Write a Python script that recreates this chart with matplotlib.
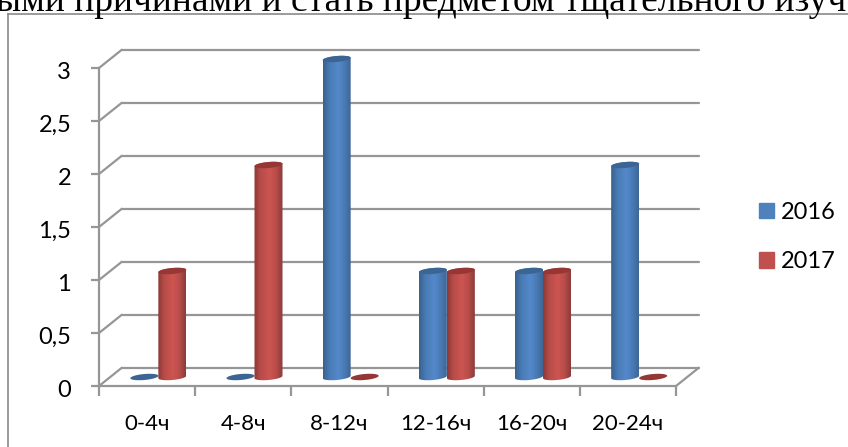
import numpy as np
import matplotlib
matplotlib.use("Agg")
import matplotlib.pyplot as plt
from matplotlib.colors import LinearSegmentedColormap
from matplotlib.lines import Line2D
from matplotlib.patches import Patch, Polygon
from matplotlib.transforms import ScaledTranslation

categories = ["0-4ч", "4-8ч", "8-12ч", "12-16ч", "16-20ч", "20-24ч"]
series_2016 = [0, 0, 3, 1, 1, 2]
series_2017 = [1, 2, 0, 1, 1, 0]
y_ticks = [0, 0.5, 1, 1.5, 2, 2.5, 3]
y_tick_labels = ["0", "0,5", "1", "1,5", "2", "2,5", "3"]
series_names = ["2016", "2017"]
background_text = "ыми причинами и стать предметом тщательного изуч"

W, H = 848, 447
FONT = ["Lato", "Noto Sans", "DejaVu Sans"]
GRID = "#969696"
plt.rcParams["font.family"] = FONT

fig = plt.figure(figsize=(W / 100, H / 100), dpi=100, facecolor="white")
L, R, T, B = 99, 676, 68, 386
ax = fig.add_axes([L / W, 1 - B / H, (R - L) / W, (B - T) / H])
ax.patch.set_alpha(0)
px_x = (R - L) / 6
px_y = (B - T) / 3
depth_x = 22.5 / px_x
depth_y = 18 / px_y

# surrounding chart frame and the cropped page text above it
for xs, ys in [((8, 8), (14, H)), ((8, W), (14, 14))]:
    fig.add_artist(Line2D([x / W for x in xs], [1 - y / H for y in ys],
                          color="#8a8a8a", lw=1.2, transform=fig.transFigure))
fig.text(-4 / W, 1 - 11 / H, background_text, family="Liberation Serif",
         fontsize=27, color="black", va="baseline", ha="left")

# walls
for v in y_ticks:
    ax.plot([depth_x, 6 + depth_x], [v + depth_y] * 2, color=GRID, lw=1.6,
            clip_on=False, zorder=1, solid_capstyle="round")
    ax.plot([0, depth_x], [v, v + depth_y], color=GRID, lw=1.6,
            clip_on=False, zorder=1)
ax.plot([6, 6 + depth_x], [0, depth_y], color=GRID, lw=1.6, clip_on=False, zorder=1)


def ramp(edge_l, mid, light, edge_r):
    return LinearSegmentedColormap.from_list(
        "c", [(0, edge_l), (0.22, mid), (0.55, light), (0.78, mid), (1, edge_r)])


blue = dict(cmap=ramp("#37618f", "#4a7ab4", "#5389cb", "#3c6697"), top="#3c6594")
red = dict(cmap=ramp("#8c3937", "#b84c49", "#cd5551", "#8a3c3a"), top="#953735")

half = 14 / px_x
b_px, tilt_px = 3.0, 1.2
ts = np.linspace(0, 2 * np.pi, 80)
z = 3


def ellipse(cx, cy, t):
    return (cx + half * np.cos(t),
            cy + (b_px * np.sin(t) + tilt_px * np.cos(t)) / px_y)


def cylinder(cx, value, style):
    global z
    base = depth_y / 2
    if value > 0:
        xb, yb = ellipse(cx, base, np.linspace(np.pi, 2 * np.pi, 40))
        xt, yt = ellipse(cx, base + value, np.linspace(0, np.pi, 40))
        outline = Polygon(np.column_stack([np.r_[xb, xt], np.r_[yb, yt]]),
                          closed=True, transform=ax.transData, fc="none", ec="none")
        ax.add_patch(outline)
        im = ax.imshow(np.linspace(0, 1, 64)[None, :], cmap=style["cmap"], aspect="auto",
                       extent=(cx - half, cx + half, base - 0.05, base + value + 0.05),
                       interpolation="bilinear", zorder=z)
        im.set_clip_box(fig.bbox)
        im.set_clip_path(outline)
    xe, ye = ellipse(cx, base + value, ts)
    ax.fill(xe, ye, color=style["top"], lw=0, clip_on=False, zorder=z + 0.5)
    z += 1


for i, (a, b) in enumerate(zip(series_2016, series_2017)):
    centre = i + 0.5 + depth_x / 2
    cylinder(centre - half, a, blue)
    cylinder(centre + half, b, red)

ax.set_xlim(0, 6)
ax.set_ylim(0, 3)
for s in ("top", "right"):
    ax.spines[s].set_visible(False)
for s in ("left", "bottom"):
    ax.spines[s].set_color(GRID)
    ax.spines[s].set_linewidth(1.6)
ax.set_yticks(y_ticks, y_tick_labels)
ax.set_xticks(np.arange(0.5, 6), categories)
ax.set_xticks(np.arange(0, 7), minor=True)
ax.tick_params(axis="y", length=6, width=1.6, color=GRID, labelsize=17, pad=14)
ax.tick_params(axis="x", which="major", length=0, labelsize=16, pad=20)
ax.tick_params(axis="x", which="minor", length=7, width=1.6, color=GRID)
for lab in ax.get_yticklabels():
    lab.set_transform(lab.get_transform() + ScaledTranslation(0, -1.5 / 72, fig.dpi_scale_trans))

handles = [Patch(color="#4f81bd"), Patch(color="#c0504d")]
fig.legend(handles, series_names, loc="center left", frameon=False, fontsize=17,
           bbox_to_anchor=(759 / W, 1 - 237 / H), handlelength=0.64, handleheight=0.64,
           handletextpad=0.27, labelspacing=1.2, borderpad=0, borderaxespad=0)

fig.savefig("out.png", dpi=100)
